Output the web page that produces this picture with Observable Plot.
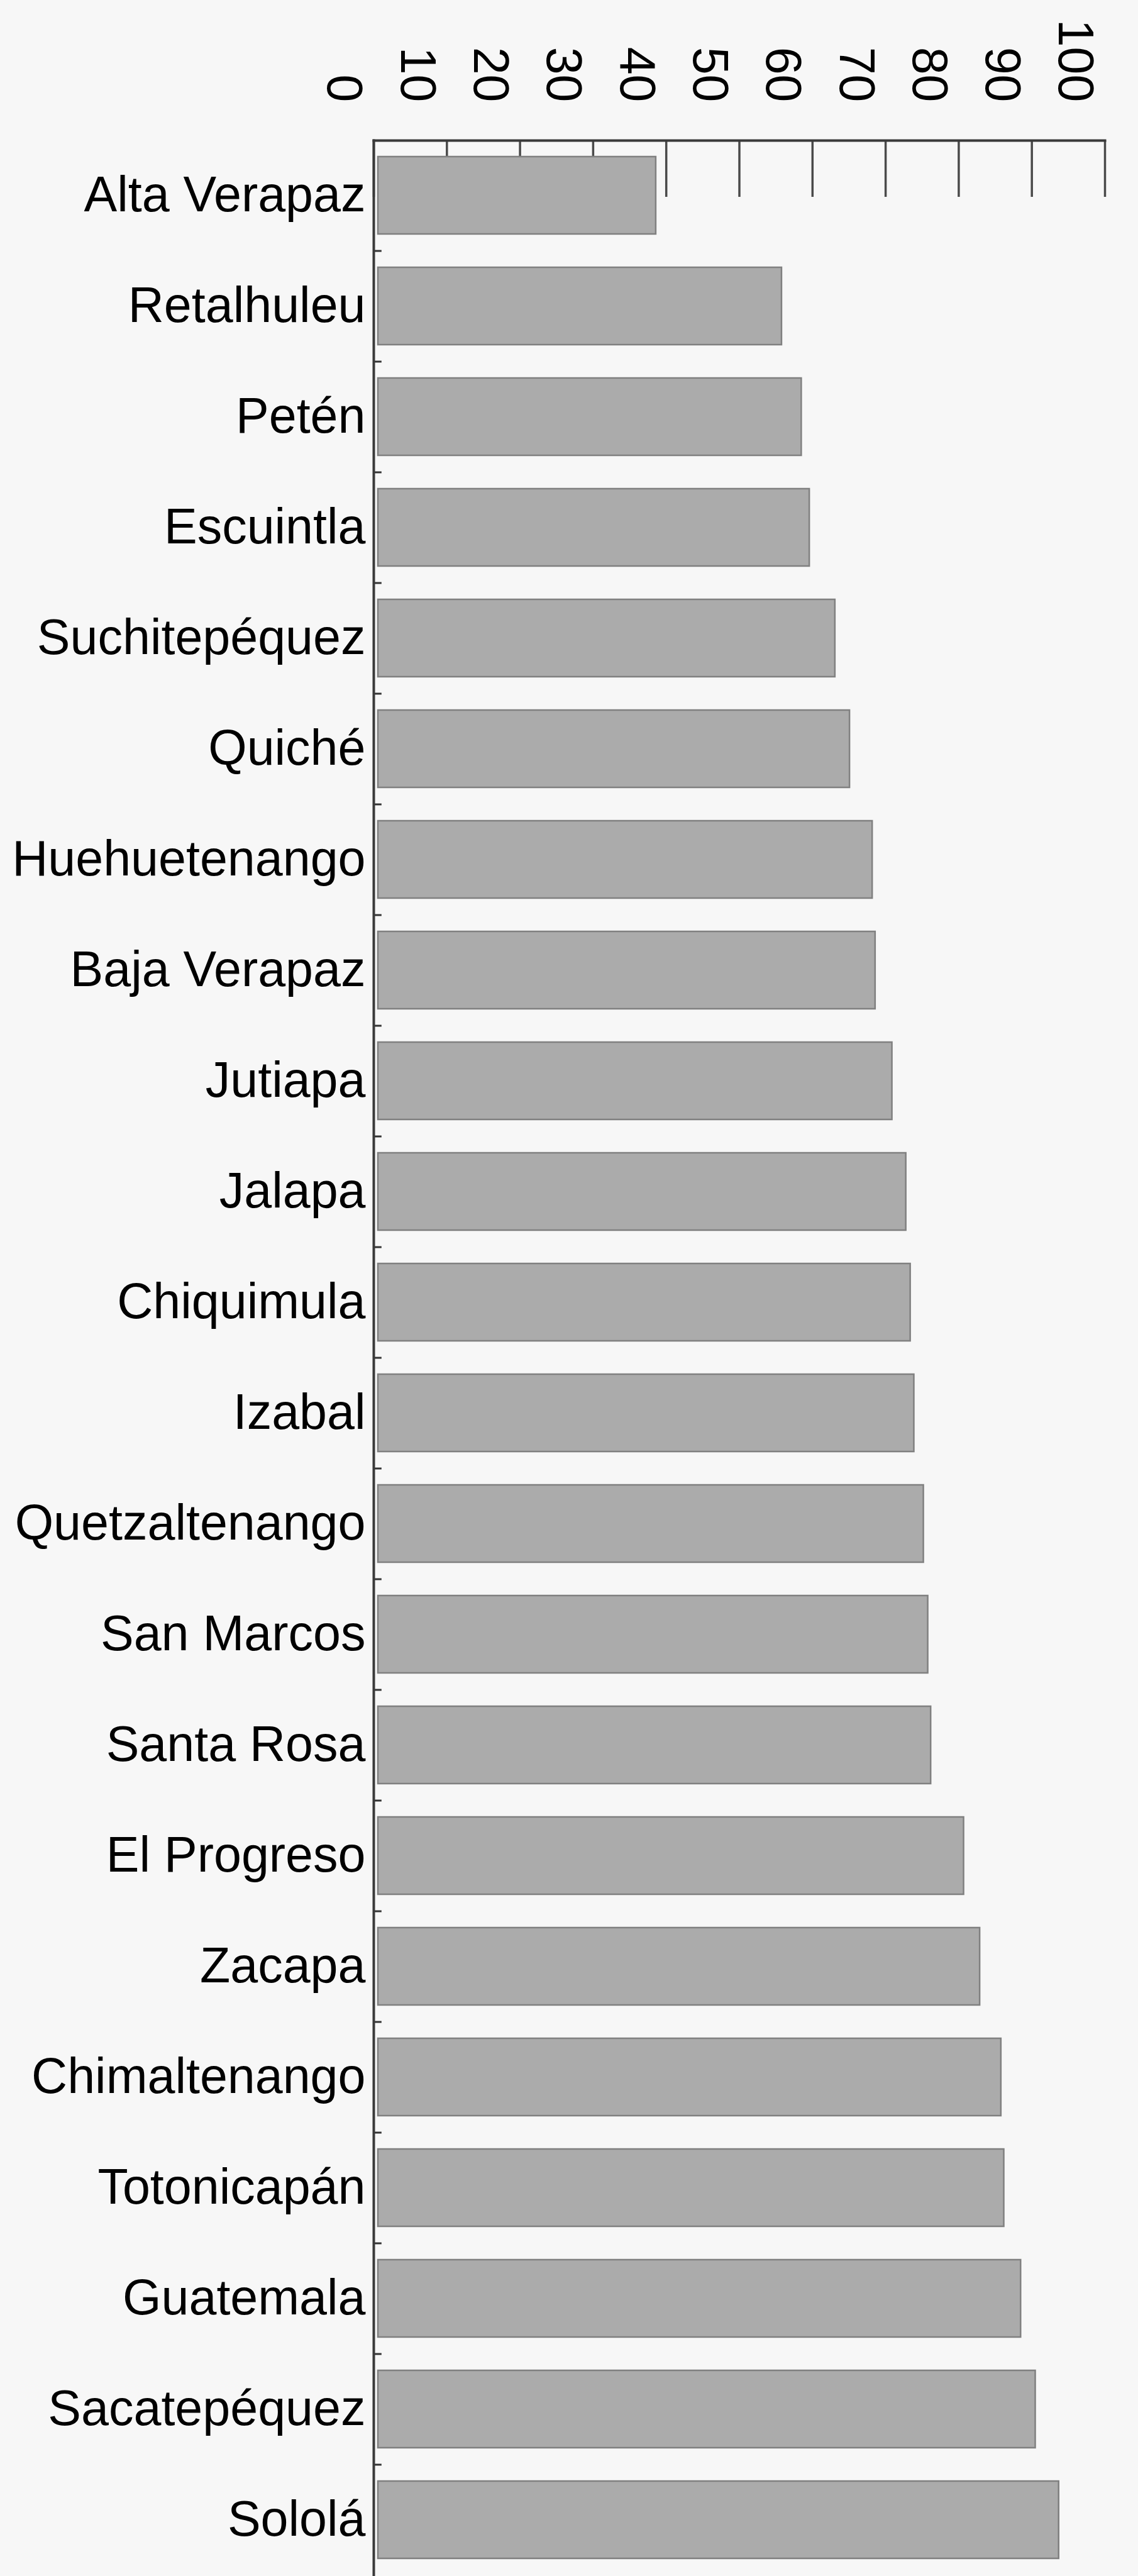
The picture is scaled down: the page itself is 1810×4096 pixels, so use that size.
<!DOCTYPE html>
<html>
<head>
<meta charset="utf-8">
<script src="https://cdn.jsdelivr.net/npm/d3@7"></script>
<script src="https://cdn.jsdelivr.net/npm/@observablehq/plot@0.6"></script>
<style>
html, body { margin: 0; padding: 0; background: #f7f7f7; }
#chart svg { display: block; }
</style>
</head>
<body>
<div id="chart"></div>
<script>
const departments = [
  "Alta Verapaz", "Retalhuleu", "Petén", "Escuintla", "Suchitepéquez", "Quiché",
  "Huehuetenango", "Baja Verapaz", "Jutiapa", "Jalapa", "Chiquimula", "Izabal",
  "Quetzaltenango", "San Marcos", "Santa Rosa", "El Progreso", "Zacapa",
  "Chimaltenango", "Totonicapán", "Guatemala", "Sacatepéquez", "Sololá"
];
const values = [
  38.6, 55.8, 58.5, 59.6, 63.1, 65.1,
  68.2, 68.6, 70.9, 72.8, 73.4, 73.9,
  75.2, 75.8, 76.2, 80.7, 82.9,
  85.8, 86.2, 88.5, 90.5, 93.7
];
const xTicks = [0, 10, 20, 30, 40, 50, 60, 70, 80, 90, 100];

const data = departments.map((d, i) => ({department: d, value: values[i]}));

const W = 1810, H = 4096;
const mTop = 223, mBottom = 1, mLeft = 594, mRight = 53;
const step = (H - mTop - mBottom) / departments.length;
const tickLen = 90;

const chart = Plot.plot({
  width: W,
  height: H,
  marginTop: mTop,
  marginBottom: mBottom,
  marginLeft: mLeft,
  marginRight: mRight,
  style: {background: "#f7f7f7", fontFamily: "'Liberation Sans', Arial, Helvetica, sans-serif", color: "#000"},
  x: {domain: [0, 100], axis: null},
  y: {type: "band", domain: departments, paddingInner: 0.3, paddingOuter: 0.15, axis: null},
  marks: [
    Plot.tickX(xTicks, {x: d => d, stroke: "#4a4a4a", strokeWidth: 3.5, insetBottom: H - mTop - mBottom - tickLen}),
    Plot.barX(data, {y: "department", x: "value", fill: "#ababab", stroke: "#808080", strokeWidth: 2.5, insetLeft: 7}),
    Plot.ruleY(departments.slice(0, -1), {y: d => d, x1: 0, x2: 1.1, dy: step / 2, stroke: "#333", strokeWidth: 3}),
    Plot.frame({anchor: "top", stroke: "#3a3a3a", strokeWidth: 4}),
    Plot.frame({anchor: "left", stroke: "#3a3a3a", strokeWidth: 4}),
    Plot.text(xTicks, {x: d => d, frameAnchor: "top", rotate: 90, textAnchor: "end", dx: -17, dy: -61, fontSize: 79, fill: "#000"}),
    Plot.text(departments, {y: d => d, frameAnchor: "left", textAnchor: "end", dx: -13, fontSize: 79, fill: "#000"})
  ]
});
document.getElementById("chart").append(chart);
</script>
</body>
</html>
